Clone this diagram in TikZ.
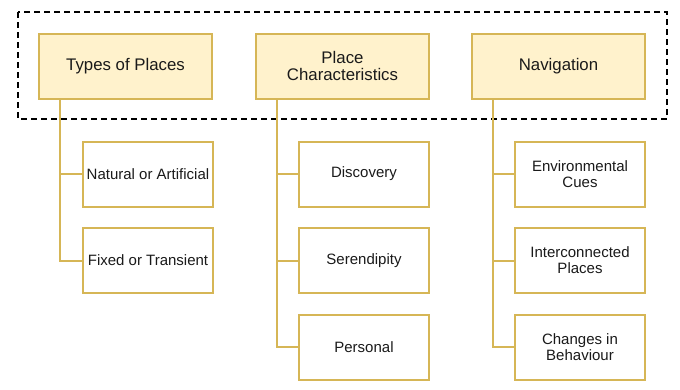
\documentclass[tikz,border=0pt]{standalone}
\usepackage{fontspec}
\setmainfont{Liberation Sans}
\definecolor{hfill}{HTML}{FFF2CC}
\definecolor{hdraw}{HTML}{D6B656}
\definecolor{txt}{HTML}{1A1A1A}
\tikzset{
  head/.style={draw=hdraw, fill=hfill, line width=2pt, minimum width=173pt, minimum height=65pt, inner sep=0pt, align=center, text=txt, font=\fontsize{16.8}{17.5}\selectfont},
  child/.style={draw=hdraw, fill=white, line width=2pt, minimum width=130pt, minimum height=65pt, inner sep=0pt, align=center, text=txt, font=\fontsize{15}{16}\selectfont},
  link/.style={draw=hdraw, line width=2pt},
  group/.style={draw=black, line width=2pt, dash pattern=on 6pt off 4pt}
}
\begin{document}
\begin{tikzpicture}[x=1pt,y=-1pt]
\useasboundingbox (0,0) rectangle (680,389);
\node[head] (h1) at (125.5,66) {Types of Places};
\node[head] (h2) at (342.5,66) {Place\\Characteristics};
\node[head] (h3) at (558.5,66) {Navigation};
\draw[group] (18,12) rectangle (667,119);
\node[child] (c11) at (148,174) {Natural or Artificial};
\node[child] (c12) at (148,260.5) {Fixed or Transient};
\node[child] (c21) at (364,174) {Discovery};
\node[child] (c22) at (364,260.5) {Serendipity};
\node[child] (c23) at (364,347) {Personal};
\node[child] (c31) at (580,174) {Environmental\\Cues};
\node[child] (c32) at (580,260.5) {Interconnected\\Places};
\node[child] (c33) at (580,347) {Changes in\\Behaviour};
\foreach \h/\c in {h1/c11,h1/c12,h2/c21,h2/c22,h2/c23,h3/c31,h3/c32,h3/c33}
  \draw[link] ([xshift=22pt]\h.south west) |- (\c.west);
\end{tikzpicture}
\end{document}
